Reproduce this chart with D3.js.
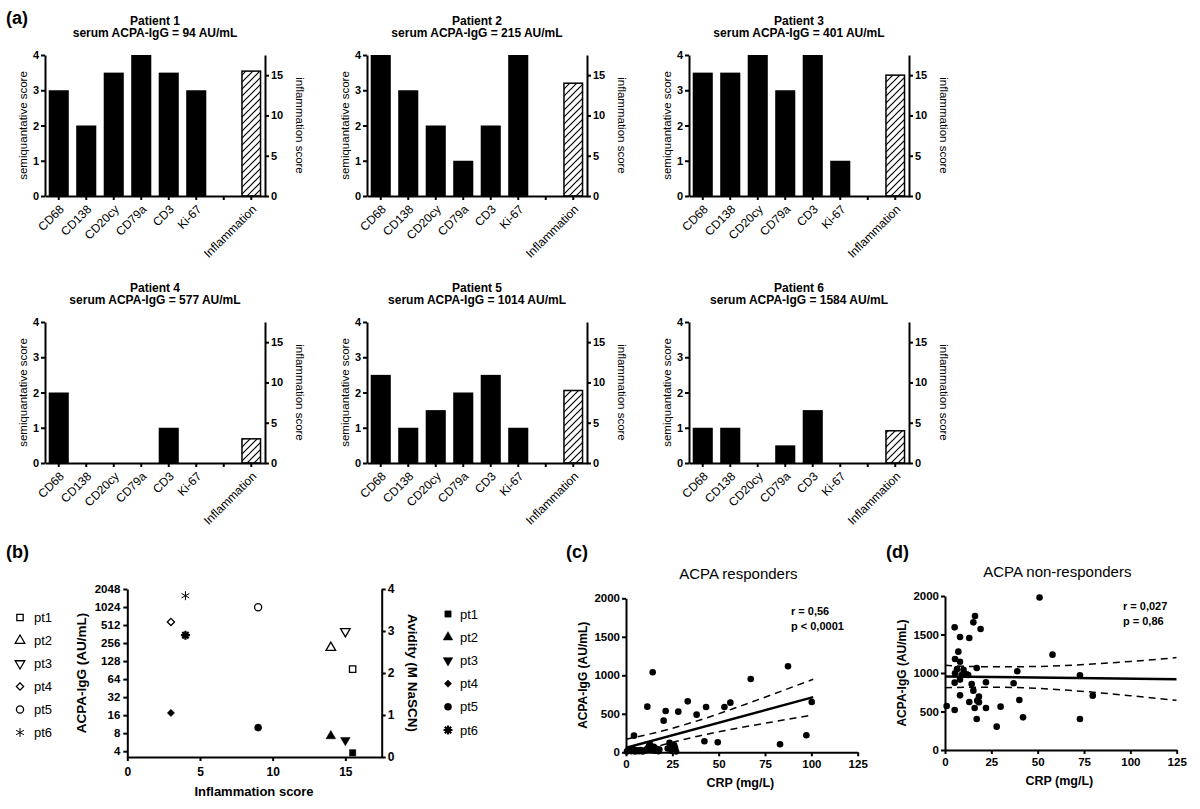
<!DOCTYPE html>
<html><head><meta charset="utf-8">
<script src="https://cdn.jsdelivr.net/npm/d3@7"></script>
<style>body{margin:0;background:#fff}</style>
</head><body><svg id="fig" width="1200" height="809"></svg>
<script>
// ---------- DATA ----------
const categories = ["CD68","CD138","CD20cy","CD79a","CD3","Ki-67","","Inflammation"];
const patientNames = ["Patient 1","Patient 2","Patient 3","Patient 4","Patient 5","Patient 6"];
const serumAcpa = [94,215,401,577,1014,1584];
const cd68   = [3,   4, 3.5, 2, 2.5, 1];
const cd138  = [2,   3, 3.5, 0, 1,   1];
const cd20cy = [3.5, 2, 4,   0, 1.5, 0];
const cd79a  = [4,   1, 3,   0, 2,   0.5];
const cd3    = [3.5, 2, 4,   1, 2.5, 1.5];
const ki67   = [3,   4, 1,   0, 1,   0];
const inflammationScore = [15.5,14,15,3,9,4];
const avidity = [0.1,0.5,0.4,1.05,0.7,2.9];
const ptLabels = ["pt1","pt2","pt3","pt4","pt5","pt6"];
const semiTicks = [0,1,2,3,4];
const inflTicks = [0,5,10,15];
const logTicks = [4,8,16,32,64,128,256,512,1024,2048];
const avidityTicks = [0,1,2,3,4];
const inflXTicks = [0,5,10,15];
const crpTicks = [0,25,50,75,100,125];
const acpaTicks = [0,500,1000,1500,2000];

// ACPA responders
const respCrp  = [0.5,1,2,3,4,5,6,7,8,9,10,11,12,12.5,13,13.5,14,15,15.5,16,17,17.5,18,22.5,23.5,24,24.5,25,25.5,26,26.5,27,
                  4.3,14.4,11.5,20.3,21.4,28.2,33.3,38.1,43.2,42.3,49.5,53.1,56.3,67.3,83.1,87.4,97.3,100.2];
const respAcpa = [10,25,35,15,40,10,25,15,30,10,20,35,60,85,100,45,30,70,20,50,40,15,35,50,125,75,20,60,40,90,55,10,
                  216,1039,593,411,537,528,662,489,589,143,130,589,645,952,104,1117,221,654];
const respFitX = [0,101];
const respFitY = [57,717];
const respCiX = [0,20,40,60,80,101];
const respUpper = [169,280,420,585,760,949];
const respLower = [-55,97,216,313,398,485];
const respStats = ["r = 0,56","p < 0,0001"];

// ACPA non-responders
const nonCrp  = [51,16.2,15.3,5.2,19.2,8.1,13.1,7.2,58,5.4,8.1,17.1,39,5.4,11.7,12.5,72.8,8.1,5.2,14.4,22.1,37,15.3,8.1,79.7,18.3,13.1,17.4,18.3,40.1,0.9,16,22.1,30,5.2,17.1,42.1,72.8,27.9,10,9,6.5];
const nonAcpa = [1980,1741,1658,1593,1572,1468,1455,1277,1238,1182,1147,1065,1022,996,983,974,970,914,875,857,879,866,771,710,706,693,624,641,620,650,572,546,546,563,520,403,424,403,303,1040,975,1050];
const nonFitX = [0,125];
const nonFitY = [955,920];
const nonCiX = [0,25,50,75,100,125];
const nonUpper = [1100,1080,1085,1110,1150,1200];
const nonLower = [810,816,800,760,705,645];
const nonStats = ["r = 0,027","p = 0,86"];

// ---------- DRAW ----------
const FONT = '"Liberation Sans", Arial, Helvetica, sans-serif';
const fmt = d3.format("d");
const svg = d3.select("#fig");
svg.append("rect").attr("width",1200).attr("height",809).attr("fill","#fff");

const defs = svg.append("defs");
const hs = 7;
defs.append("pattern").attr("id","hatch").attr("patternUnits","userSpaceOnUse")
  .attr("width",hs).attr("height",hs)
  .append("path")
  .attr("d",`M0,${hs} L${hs},0 M-1,1 L1,-1 M${hs-1},${hs+1} L${hs+1},${hs-1}`)
  .attr("stroke","#000").attr("stroke-width",1.2);

function styleAxis(g, fs, bold=true){
  g.attr("font-family",FONT);
  g.select(".domain").attr("stroke","#000").attr("stroke-width",2);
  g.selectAll(".tick line").attr("stroke","#000").attr("stroke-width",2);
  g.selectAll(".tick text").attr("font-size",fs).attr("font-weight",bold?"bold":"normal").attr("fill","#000");
}
function txt(x,y,s,opt={}){
  const t = svg.append("text").attr("x",x).attr("y",y).text(s)
    .attr("font-family",FONT).attr("font-size",opt.fs||12)
    .attr("font-weight",opt.bold?"bold":"normal").attr("fill","#000")
    .attr("text-anchor",opt.anchor||"start");
  if(opt.rot!==undefined){ t.attr("x",0).attr("y",0).attr("transform",`translate(${x},${y}) rotate(${opt.rot})`); }
  return t;
}

// panel labels
txt(6,24,"(a)",{fs:18,bold:true});
txt(6,558,"(b)",{fs:18,bold:true});
txt(566,558,"(c)",{fs:18,bold:true});
txt(886,558,"(d)",{fs:18,bold:true});

// ---- (a) bar charts ----
const markerSeries = [cd68,cd138,cd20cy,cd79a,cd3,ki67];
const colX = [45,367,689], rowY = [55,322], W = 220, H = 141;
patientNames.forEach((name,i)=>{
  const x0 = colX[i%3], y0 = rowY[Math.floor(i/3)];
  const g = svg.append("g").attr("transform",`translate(${x0},${y0})`);
  const x = d3.scaleBand().domain(categories).range([0,W]).paddingInner(0.27).paddingOuter(0.135);
  const yL = d3.scaleLinear().domain([0,4]).range([H,0]);
  const yR = d3.scaleLinear().domain([0,17.5]).range([H,0]);
  const vals = markerSeries.map((s,k)=>({cat:categories[k], v:s[i]})).filter(d=>d.v>0);
  g.selectAll("rect.bar").data(vals).enter().append("rect")
    .attr("x",d=>x(d.cat)).attr("width",x.bandwidth())
    .attr("y",d=>yL(d.v)).attr("height",d=>H-yL(d.v)).attr("fill","#000");
  const inf = inflammationScore[i];
  g.append("rect").attr("x",x("Inflammation")+0.75).attr("width",x.bandwidth()-1.5)
    .attr("y",yR(inf)).attr("height",H-yR(inf))
    .attr("fill","url(#hatch)").attr("stroke","#000").attr("stroke-width",1.5);
  const ax = g.append("g").attr("transform",`translate(0,${H})`)
    .call(d3.axisBottom(x).tickSize(4).tickSizeOuter(0));
  styleAxis(ax,12,false);
  ax.selectAll(".tick text").attr("x",0).attr("y",0).attr("dy","0.35em")
    .attr("transform","translate(3,11) rotate(-45)").style("text-anchor","end");
  const al = g.append("g").call(d3.axisLeft(yL).tickValues(semiTicks).tickFormat(fmt).tickSize(4).tickPadding(2).tickSizeOuter(0));
  styleAxis(al,11);
  const ar = g.append("g").attr("transform",`translate(${W},0)`)
    .call(d3.axisRight(yR).tickValues(inflTicks).tickFormat(fmt).tickSize(4).tickPadding(2).tickSizeOuter(0));
  styleAxis(ar,11);
  const cx = x0 + W/2;
  txt(cx, y0-30, name, {fs:12,bold:true,anchor:"middle"});
  txt(cx, y0-18, `serum ACPA-IgG = ${serumAcpa[i]} AU/mL`, {fs:12,bold:true,anchor:"middle"});
  txt(x0-18, y0+H/2, "semiquantative score", {fs:11.5,anchor:"middle",rot:-90});
  txt(x0+W+31, y0+H/2, "inflammation score", {fs:11.5,anchor:"middle",rot:90});
});

// ---- (b) ----
const markerKinds = ["square","triangle","tdown","diamond","circle","asterisk"];
function marker(g, kind, cx, cy, filled){
  if(kind==="asterisk"){
    const r = 4.5, p = d3.path();
    const angles = filled?[0,45,90,135]:[90,30,150];
    angles.forEach(a=>{const t=a*Math.PI/180;
      p.moveTo(cx-r*Math.cos(t),cy-r*Math.sin(t)); p.lineTo(cx+r*Math.cos(t),cy+r*Math.sin(t));});
    g.append("path").attr("d",p.toString()).attr("stroke","#000").attr("stroke-width",filled?2.2:1).attr("fill","none");
    return;
  }
  let type=d3.symbolSquare, rot=0, size=40;
  if(kind==="triangle"){type=d3.symbolTriangle; size=40;}
  if(kind==="tdown"){type=d3.symbolTriangle; size=40; rot=180;}
  if(kind==="diamond"){type=d3.symbolSquare; size=26; rot=45;}
  if(kind==="circle"){type=d3.symbolCircle; size=40;}
  g.append("path").attr("d",d3.symbol(type,size)())
    .attr("transform",`translate(${cx},${cy}) rotate(${rot})`)
    .attr("fill",filled?"#000":"#fff").attr("stroke","#000").attr("stroke-width",filled?0.5:1.3);
}
{
  const bx = d3.scaleLinear().domain([0,17.5]).range([127.3,381.7]);
  const by = d3.scaleLog().base(2).domain([3.2,2048]).range([757,589]);
  const br = d3.scaleLinear().domain([0,4]).range([757,589]);
  const g = svg.append("g");
  const axb = g.append("g").attr("transform","translate(0,757)")
    .call(d3.axisBottom(bx).tickValues(inflXTicks).tickFormat(fmt).tickSize(4).tickPadding(6).tickSizeOuter(0));
  styleAxis(axb,12);
  const axl = g.append("g").attr("transform","translate(127.3,0)")
    .call(d3.axisLeft(by).tickValues(logTicks).tickFormat(fmt).tickSize(4).tickPadding(3).tickSizeOuter(0));
  styleAxis(axl,11.5);
  const axr = g.append("g").attr("transform","translate(381.7,0)")
    .call(d3.axisRight(br).tickValues(avidityTicks).tickFormat(fmt).tickSize(4).tickPadding(2).tickSizeOuter(0));
  styleAxis(axr,12);
  ptLabels.forEach((p,i)=>{
    marker(g, markerKinds[i], bx(inflammationScore[i]), by(serumAcpa[i]), false);
    marker(g, markerKinds[i], bx(inflammationScore[i]), br(avidity[i]), true);
    marker(g, markerKinds[i], 20, 617.5+i*23, false);
    txt(34, 617.5+i*23+4.5, p, {fs:13});
    marker(g, markerKinds[i], 448, 614+i*23.2, true);
    txt(460, 614+i*23.2+4.5, p, {fs:13});
  });
  txt(86, 673, "ACPA-IgG (AU/mL)", {fs:13.5,bold:true,anchor:"middle",rot:-90});
  txt(408, 673, "Avidity (M NaSCN)", {fs:13.5,bold:true,anchor:"middle",rot:90});
  txt(254, 796, "Inflammation score", {fs:13,bold:true,anchor:"middle"});
}

// ---- (c) & (d) ----
function scatter(cfg){
  const x = d3.scaleLinear().domain([0,125]).range([cfg.x0,cfg.x1]);
  const y = d3.scaleLinear().domain([0,2000]).range([cfg.yb,cfg.yt]);
  const g = svg.append("g");
  const cid = "clip"+cfg.id;
  defs.append("clipPath").attr("id",cid).append("rect")
    .attr("x",cfg.x0).attr("y",cfg.yt-10).attr("width",cfg.x1-cfg.x0).attr("height",cfg.yb-cfg.yt+10);
  g.selectAll("circle").data(cfg.xs).enter().append("circle")
    .attr("cx",(d)=>x(d)).attr("cy",(d,i)=>y(cfg.ys[i])).attr("r",3.3).attr("fill","#000");
  const lg = g.append("g").attr("clip-path",`url(#${cid})`);
  const line = d3.line().x(d=>x(d[0])).y(d=>y(d[1])).curve(d3.curveMonotoneX);
  lg.append("path").attr("d",line(cfg.fitX.map((v,i)=>[v,cfg.fitY[i]])))
    .attr("stroke","#000").attr("stroke-width",2.5).attr("fill","none");
  [cfg.up,cfg.lo].forEach(arr=>{
    lg.append("path").attr("d",line(cfg.ciX.map((v,i)=>[v,arr[i]])))
      .attr("stroke","#000").attr("stroke-width",1.5).attr("fill","none").attr("stroke-dasharray","7,5");
  });
  const ax = g.append("g").attr("transform",`translate(0,${cfg.yb})`)
    .call(d3.axisBottom(x).tickValues(crpTicks).tickFormat(fmt).tickSize(4).tickPadding(4).tickSizeOuter(0));
  styleAxis(ax,11.5);
  const ay = g.append("g").attr("transform",`translate(${cfg.x0},0)`)
    .call(d3.axisLeft(y).tickValues(acpaTicks).tickFormat(fmt).tickSize(4).tickPadding(2).tickSizeOuter(0));
  styleAxis(ay,11.5);
  txt((cfg.x0+cfg.x1)/2-3.5, cfg.yt-19, cfg.title, {fs:15,anchor:"middle"});
  txt(cfg.x0-39, (cfg.yt+cfg.yb)/2, "ACPA-IgG (AU/mL)", {fs:12,bold:true,anchor:"middle",rot:-90});
  txt((cfg.x0+cfg.x1)/2-1.5, cfg.yb+35, "CRP (mg/L)", {fs:12.5,bold:true,anchor:"middle"});
  txt(cfg.sx, cfg.sy, cfg.stats[0], {fs:11,bold:true});
  txt(cfg.sx, cfg.sy+14.5, cfg.stats[1], {fs:11,bold:true});
}
scatter({id:"c",x0:626,x1:857.7,yb:752.3,yt:598.3,xs:respCrp,ys:respAcpa,fitX:respFitX,fitY:respFitY,
  ciX:respCiX,up:respUpper,lo:respLower,title:"ACPA responders",stats:respStats,sx:791,sy:615});
scatter({id:"d",x0:945,x1:1176.7,yb:750,yt:596,xs:nonCrp,ys:nonAcpa,fitX:nonFitX,fitY:nonFitY,
  ciX:nonCiX,up:nonUpper,lo:nonLower,title:"ACPA non-responders",stats:nonStats,sx:1123,sy:610});
</script></body></html>
